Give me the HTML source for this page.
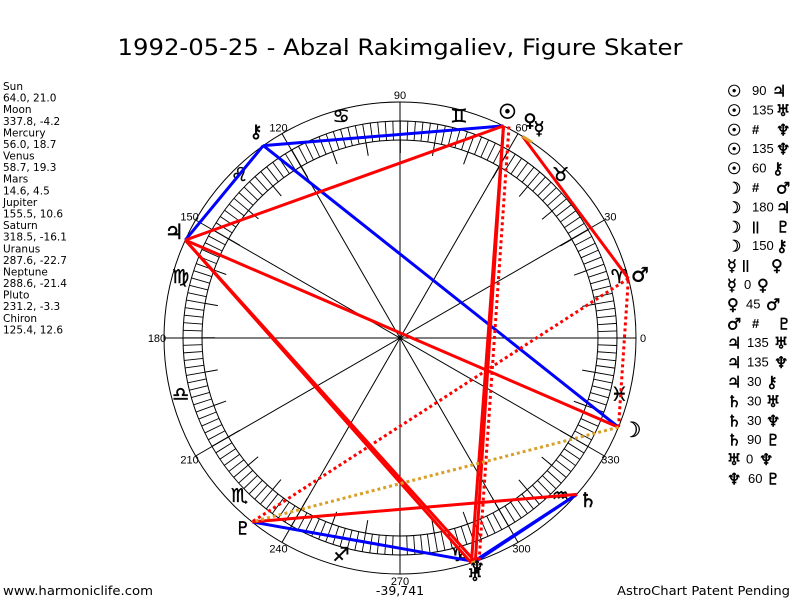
<!DOCTYPE html>
<html><head><meta charset="utf-8"><style>
html,body{margin:0;padding:0;background:#fff;}
svg{display:block;}
.g{font-family:"DejaVu Sans",sans-serif;fill:#000;stroke:#000;stroke-width:0.5;}
.l{font-family:"DejaVu Sans",sans-serif;font-size:10.5px;fill:#000;}
.d{font-family:"Liberation Sans",sans-serif;font-size:11px;fill:#000;text-anchor:middle;}
.n{font-family:"Liberation Sans",sans-serif;font-size:13px;fill:#000;}
</style></head><body>
<svg width="800" height="600" viewBox="0 0 800 600" xmlns="http://www.w3.org/2000/svg">
<rect width="800" height="600" fill="#fff"/>
<text x="400" y="55" text-anchor="middle" font-family="DejaVu Sans, sans-serif" font-size="22" textLength="565" lengthAdjust="spacingAndGlyphs">1992-05-25 - Abzal Rakimgaliev, Figure Skater</text>

<!-- wheel -->
<g fill="none" stroke="#000" stroke-width="1">
<circle cx="400" cy="338" r="236"/>
<circle cx="400" cy="338" r="217"/>
<circle cx="400" cy="338" r="198"/>
<circle cx="400" cy="338" r="207.5" stroke-width="19" stroke-dasharray="0.9 6.3431" stroke-dashoffset="0.45"/>
<circle cx="400" cy="338" r="191.5" stroke-width="13" stroke-dasharray="1 32.423" stroke-dashoffset="0.5"/>
<line x1="164" y1="338" x2="636" y2="338"/>
<line x1="400" y1="102" x2="400" y2="574"/>
<line x1="604.4" y1="220" x2="195.6" y2="456"/>
<line x1="518" y1="133.6" x2="282" y2="542.4"/>
<line x1="282" y1="133.6" x2="518" y2="542.4"/>
<line x1="195.6" y1="220" x2="604.4" y2="456"/>
</g>

<!-- degree labels -->
<text class="d" x="643" y="342">0</text>
<text class="d" x="610.4" y="220.5">30</text>
<text class="d" x="521.5" y="131.6">60</text>
<text class="d" x="400" y="99">90</text>
<text class="d" x="278.5" y="131.6">120</text>
<text class="d" x="189.6" y="220.5">150</text>
<text class="d" x="157" y="342">180</text>
<text class="d" x="189.6" y="463.5">210</text>
<text class="d" x="278.5" y="552.4">240</text>
<text class="d" x="400" y="585">270</text>
<text class="d" x="521.5" y="552.4">300</text>
<text class="d" x="610.4" y="463.5">330</text>

<!-- zodiac signs -->
<g class="g" font-size="19" text-anchor="middle" stroke-width="0.4">
<text x="619.3" y="282.8">♈</text>
<text x="560.5" y="181.1">♉</text>
<text x="458.8" y="122.3">♊</text>
<text x="341.2" y="122.3">♋</text>
<text x="239.5" y="181.1">♌</text>
<text x="180.7" y="282.8">♍</text>
<text x="180.7" y="400.4">♎</text>
<text x="239.5" y="502.1">♏</text>
<text x="341.2" y="560.9">♐</text>
<text x="458.8" y="560.9">♑</text>
<text x="560.5" y="502.1">♒</text>
<text x="619.3" y="400.4">♓</text>
</g>

<!-- aspect lines -->
<g fill="none" stroke-width="3" stroke-linecap="butt">
<g stroke="#0000ff">
<line x1="503.5" y1="125.9" x2="263.3" y2="145.6"/>
<line x1="618.5" y1="427.2" x2="263.3" y2="145.6"/>
<line x1="185.3" y1="240.1" x2="263.3" y2="145.6"/>
<line x1="576.8" y1="494.4" x2="471.4" y2="563.0"/>
<line x1="576.8" y1="494.4" x2="475.3" y2="561.7"/>
<line x1="475.3" y1="561.7" x2="252.1" y2="521.9"/>
</g>
<g stroke="#ff0000">
<line x1="503.5" y1="125.9" x2="185.3" y2="240.1"/>
<line x1="503.5" y1="125.9" x2="471.4" y2="563.0"/>
<line x1="503.5" y1="125.9" x2="475.3" y2="561.7"/>
<line x1="618.5" y1="427.2" x2="185.3" y2="240.1"/>
<line x1="522.6" y1="136.4" x2="628.4" y2="278.5"/>
<line x1="185.3" y1="240.1" x2="471.4" y2="563.0"/>
<line x1="185.3" y1="240.1" x2="475.3" y2="561.7"/>
<line x1="576.8" y1="494.4" x2="252.1" y2="521.9"/>
</g>
<g stroke="#ff0000" stroke-dasharray="3 3">
<line x1="509" y1="126.5" x2="479" y2="561.7"/>
<line x1="618.5" y1="427.2" x2="628.4" y2="278.5"/>
<line x1="628.4" y1="278.5" x2="252.1" y2="521.9"/>
</g>
<g stroke="#d8a028">
<line x1="522.6" y1="136.4" x2="532.0" y2="142.4"/>
<line x1="471.4" y1="563.0" x2="475.3" y2="561.7"/>
<line x1="618.5" y1="427.2" x2="252.1" y2="521.9" stroke-dasharray="3 3"/>
</g>
</g>

<!-- planet glyphs -->
<g class="g" text-anchor="middle">
<text x="507.5" y="118.5" font-size="20" stroke-width="0.9">☉</text>
<text x="530" y="126.5" font-size="18">♀</text>
<text x="539" y="134.5" font-size="18">☿</text>
<text x="640" y="281.5" font-size="20">♂</text>
<text x="632" y="437" font-size="21">☽</text>
<text x="174" y="239" font-size="21">♃</text>
<text x="256" y="137.5" font-size="18">⚷</text>
<text x="588" y="507" font-size="20">♄</text>
<text x="477" y="573" font-size="17">♆</text>
<text x="475" y="581" font-size="17">♅</text>
<text x="243" y="534.5" font-size="18">♇</text>
</g>

<!-- left list -->
<g class="l">
<text x="3" y="90">Sun</text>
<text x="3" y="101.6">64.0, 21.0</text>
<text x="3" y="113.2">Moon</text>
<text x="3" y="124.8">337.8, -4.2</text>
<text x="3" y="136.4">Mercury</text>
<text x="3" y="148">56.0, 18.7</text>
<text x="3" y="159.5">Venus</text>
<text x="3" y="171.1">58.7, 19.3</text>
<text x="3" y="182.7">Mars</text>
<text x="3" y="194.3">14.6, 4.5</text>
<text x="3" y="205.9">Jupiter</text>
<text x="3" y="217.5">155.5, 10.6</text>
<text x="3" y="229.1">Saturn</text>
<text x="3" y="240.7">318.5, -16.1</text>
<text x="3" y="252.3">Uranus</text>
<text x="3" y="263.9">287.6, -22.7</text>
<text x="3" y="275.4">Neptune</text>
<text x="3" y="287">288.6, -21.4</text>
<text x="3" y="298.6">Pluto</text>
<text x="3" y="310.2">231.2, -3.3</text>
<text x="3" y="321.8">Chiron</text>
<text x="3" y="333.4">125.4, 12.6</text>
</g>

<!-- right aspect list -->
<g font-size="16">
<text class="g" stroke-width="0.8" x="727" y="96.5">☉</text><text class="n" x="752" y="95">90</text><text class="g" x="772" y="96.5">♃</text>
<text class="g" stroke-width="0.8" x="727" y="115.9">☉</text><text class="n" x="752" y="114.4">135</text><text class="g" x="776" y="115.9">♅</text>
<text class="g" stroke-width="0.8" x="727" y="135.3">☉</text><text class="n" font-weight="bold" x="752" y="133.8">#</text><text class="g" x="776" y="135.3">♆</text>
<text class="g" stroke-width="0.8" x="727" y="154.7">☉</text><text class="n" x="752" y="153.2">135</text><text class="g" x="776" y="154.7">♆</text>
<text class="g" stroke-width="0.8" x="727" y="174.1">☉</text><text class="n" x="752" y="172.6">60</text><text class="g" x="772" y="174.1">⚷</text>
<text class="g" x="727" y="193.5">☽</text><text class="n" font-weight="bold" x="752" y="192">#</text><text class="g" x="776" y="193.5">♂</text>
<text class="g" x="727" y="212.9">☽</text><text class="n" x="752" y="211.4">180</text><text class="g" x="776" y="212.9">♃</text>
<text class="g" x="727" y="232.3">☽</text><text class="n" font-weight="bold" x="752" y="230.8">||</text><text class="g" x="776" y="232.3">♇</text>
<text class="g" x="727" y="251.7">☽</text><text class="n" x="752" y="250.2">150</text><text class="g" x="776" y="251.7">⚷</text>
<text class="g" x="727" y="271.1">☿</text><text class="n" font-weight="bold" x="742" y="269.6">||</text><text class="g" x="771" y="271.1">♀</text>
<text class="g" x="727" y="290.5">☿</text><text class="n" x="744" y="289">0</text><text class="g" x="757" y="290.5">♀</text>
<text class="g" x="727" y="309.9">♀</text><text class="n" x="746" y="308.4">45</text><text class="g" x="766" y="309.9">♂</text>
<text class="g" x="727" y="329.3">♂</text><text class="n" font-weight="bold" x="752" y="327.8">#</text><text class="g" x="777" y="329.3">♇</text>
<text class="g" x="727" y="348.7">♃</text><text class="n" x="747" y="347.2">135</text><text class="g" x="774" y="348.7">♅</text>
<text class="g" x="727" y="368.1">♃</text><text class="n" x="747" y="366.6">135</text><text class="g" x="774" y="368.1">♆</text>
<text class="g" x="727" y="387.5">♃</text><text class="n" x="747" y="386">30</text><text class="g" x="766" y="387.5">⚷</text>
<text class="g" x="727" y="406.9">♄</text><text class="n" x="747" y="405.4">30</text><text class="g" x="766" y="406.9">♅</text>
<text class="g" x="727" y="426.3">♄</text><text class="n" x="747" y="424.8">30</text><text class="g" x="766" y="426.3">♆</text>
<text class="g" x="727" y="445.7">♄</text><text class="n" x="747" y="444.2">90</text><text class="g" x="766" y="445.7">♇</text>
<text class="g" x="727" y="465.1">♅</text><text class="n" x="746" y="463.6">0</text><text class="g" x="759" y="465.1">♆</text>
<text class="g" x="727" y="484.5">♆</text><text class="n" x="748" y="483">60</text><text class="g" x="766" y="484.5">♇</text>
</g>

<!-- footer -->
<text x="3" y="595" font-family="DejaVu Sans, sans-serif" font-size="12.5" textLength="150" lengthAdjust="spacingAndGlyphs">www.harmoniclife.com</text>
<text x="400" y="595" text-anchor="middle" font-family="DejaVu Sans, sans-serif" font-size="12.5">-39,741</text>
<text x="617" y="595" font-family="DejaVu Sans, sans-serif" font-size="12.5" textLength="173" lengthAdjust="spacingAndGlyphs">AstroChart Patent Pending</text>
</svg>
</body></html>
